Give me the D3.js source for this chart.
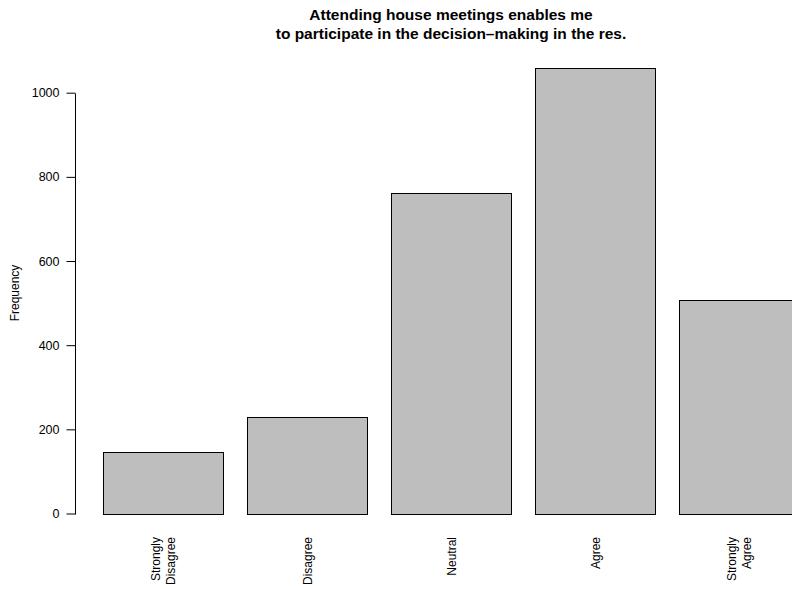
<!DOCTYPE html>
<html>
<head>
<meta charset="utf-8">
<script src="https://cdn.jsdelivr.net/npm/d3@7"></script>
<style>
  html, body { margin: 0; padding: 0; background: #fff; }
  svg { display: block; }
  text { font-family: "Liberation Sans", Arial, Helvetica, sans-serif; fill: #000; }
</style>
</head>
<body>
<svg id="chart" width="792" height="589"></svg>
<script>
const categories = [["Strongly", "Disagree"], ["Disagree"], ["Neutral"], ["Agree"], ["Strongly", "Agree"]];
const values = [145, 230, 762, 1058, 507];
const yTicks = [0, 200, 400, 600, 800, 1000];
const titleLines = ["Attending house meetings enables me", "to participate in the decision\u2013making in the res."];
const yLabel = "Frequency";

const svg = d3.select("#chart");

const keys = categories.map((c, i) => i);
const x = d3.scaleBand().domain(keys).range([91, 811]).paddingInner(1/6).paddingOuter(1/12);
const y = d3.scaleLinear().domain([0, 1000]).range([513.5, 92.7]);

// bars
svg.append("g").selectAll("rect").data(values).enter().append("rect")
  .attr("x", (d, i) => Math.round(x(i)) + 0.5)
  .attr("y", d => Math.round(y(d)) + 0.5)
  .attr("width", x.bandwidth())
  .attr("height", d => Math.round(y(0)) - Math.round(y(d)))
  .attr("fill", "#BEBEBE")
  .attr("stroke", "#000")
  .attr("stroke-width", 1);

// y axis
const yAxis = d3.axisLeft(y).tickValues(yTicks).tickSize(9).tickPadding(7).tickFormat(d3.format("d"));
const gy = svg.append("g").attr("transform", "translate(75.5,0)").call(yAxis);
gy.select(".domain").attr("d", `M0,${Math.round(y(0))+0.5}V${Math.round(y(1000))+0.5}`).attr("stroke", "#000").attr("fill", "none");
gy.selectAll(".tick line").attr("stroke", "#000");
gy.selectAll(".tick text").attr("font-size", 12.5).attr("fill", "#000")
  .attr("font-family", "'Liberation Sans', Arial, sans-serif");
gy.attr("font-size", 12.5);

// y label
svg.append("text")
  .attr("transform", `translate(19,293) rotate(-90)`)
  .attr("text-anchor", "middle")
  .attr("font-size", 12)
  .text(yLabel);

// category labels (rotated)
const lineGap = 14.5;
categories.forEach((lines, i) => {
  const cx = x(i) + x.bandwidth() / 2;
  const n = lines.length;
  lines.forEach((t, j) => {
    const off = (j - (n - 1) / 2) * lineGap;
    svg.append("text")
      .attr("transform", `translate(${cx + off + 4.5},537) rotate(-90)`)
      .attr("text-anchor", "end")
      .attr("font-size", 12)
      .text(t);
  });
});

// title
const title = svg.append("text").attr("text-anchor", "middle").attr("font-weight", "bold").attr("font-size", 15.5);
titleLines.forEach((t, i) => {
  title.append("tspan").attr("x", 451).attr("y", 20 + i * 19).text(t);
});
</script>
</body>
</html>
